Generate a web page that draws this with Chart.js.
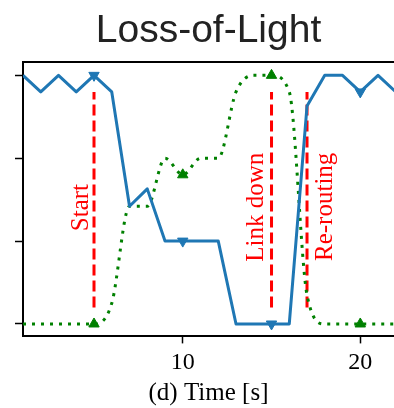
<!DOCTYPE html>
<html>
<head>
<meta charset="utf-8">
<script src="https://cdn.jsdelivr.net/npm/chart.js@4"></script>
<style>
  html, body { margin: 0; padding: 0; background: #fff; }
</style>
</head>
<body>
<canvas id="myChart" width="394" height="408"></canvas>
<script>
// time axis (s)
const times = [1, 2, 3, 4, 5, 6, 7, 8, 9, 10, 11, 12, 13, 14, 15, 16, 17, 18, 19, 20, 21, 22];
// blue series (primary path)
const primaryPath = [3, 2.8, 3, 2.8, 3, 2.8, 1.42, 1.63, 1.0, 1.0, 1.0, 1.0, 0, 0, 0, 0, 2.63, 3, 3, 2.8, 3, 2.8];
// green series (backup path)
const backupPath = [0, 0, 0, 0, 0, 0.25, 1.42, 1.42, 2.0, 1.8, 2.0, 2.0, 2.8, 3.0, 3.0, 2.8, 0.35, 0, 0, 0, 0, 0];
const xTicks = [10, 20];
const yTicks = [0, 1, 2, 3];
// events
const eventTimes = [5, 15, 17];
const eventLabels = ['Start', 'Link down', 'Re-routing'];

// label placement for events: pixel offset from line, y where text starts (data units)
const eventLabelPos = [
    { dx: -6, y: 1.12 },
    { dx: -9, y: 0.75 },
    { dx: 25, y: 0.76 }
];

const eventPlugin = {
    id: 'events',
    beforeDatasetsDraw(chart) {
        const { ctx, scales: { x, y } } = chart;
        ctx.save();
        ctx.strokeStyle = '#ff0000';
        ctx.lineWidth = 3;
        ctx.setLineDash([11, 5]);
        eventTimes.forEach((t) => {
            const px = x.getPixelForValue(t);
            ctx.beginPath();
            ctx.moveTo(px, y.getPixelForValue(0.2));
            ctx.lineTo(px, y.getPixelForValue(2.8));
            ctx.stroke();
        });
        ctx.setLineDash([]);
        ctx.fillStyle = '#ff0000';
        ctx.font = '25px "Liberation Serif"';
        ctx.textAlign = 'left';
        ctx.textBaseline = 'alphabetic';
        eventTimes.forEach((t, i) => {
            const px = x.getPixelForValue(t) + eventLabelPos[i].dx;
            const py = y.getPixelForValue(eventLabelPos[i].y);
            ctx.save();
            ctx.translate(px, py);
            ctx.rotate(-Math.PI / 2);
            ctx.fillText(eventLabels[i], 0, 0);
            ctx.restore();
        });
        ctx.restore();
    },
    afterDraw(chart) {
        // top spine
        const { ctx, chartArea } = chart;
        ctx.save();
        ctx.strokeStyle = '#000';
        ctx.lineWidth = 2;
        ctx.beginPath();
        ctx.moveTo(chartArea.left - 1, chartArea.top);
        ctx.lineTo(chartArea.right, chartArea.top);
        ctx.stroke();
        ctx.restore();
    }
};

const markerRadius = (c) => (times[c.dataIndex] % 5 === 0 ? 6 : 0);

var ctx = document.getElementById('myChart').getContext('2d');
var chart = new Chart(ctx, {
    type: 'line',
    data: {
        datasets: [{
            label: 'primary',
            data: times.map((t, i) => ({ x: t, y: primaryPath[i] })),
            borderColor: '#1f77b4',
            backgroundColor: '#1f77b4',
            borderWidth: 3,
            borderJoinStyle: 'round',
            tension: 0,
            pointStyle: 'triangle',
            rotation: 180,
            pointRadius: markerRadius,
            pointHoverRadius: markerRadius,
            pointBorderWidth: 1,
            pointBackgroundColor: '#1f77b4',
            pointBorderColor: '#1f77b4'
        }, {
            label: 'backup',
            data: times.map((t, i) => ({ x: t, y: backupPath[i] })),
            borderColor: '#008000',
            backgroundColor: '#008000',
            borderWidth: 3,
            borderDash: [3, 6],
            borderCapStyle: 'butt',
            cubicInterpolationMode: 'monotone',
            pointStyle: 'triangle',
            pointRadius: markerRadius,
            pointHoverRadius: markerRadius,
            pointBorderWidth: 1,
            pointBackgroundColor: '#008000',
            pointBorderColor: '#008000'
        }]
    },
    options: {
        responsive: false,
        animation: false,
        devicePixelRatio: 1,
        layout: { padding: { left: 15, right: 0, top: 0, bottom: 0 } },
        plugins: {
            legend: { display: false },
            tooltip: { enabled: false },
            title: {
                display: true,
                text: 'Loss-of-Light',
                fullSize: false,
                color: '#222',
                font: { family: 'Liberation Sans', size: 39, weight: 'normal' },
                padding: { top: 8, bottom: 7.3 }
            }
        },
        scales: {
            x: {
                type: 'linear',
                min: 1,
                max: 21.9,
                border: { display: true, color: '#000', width: 2 },
                grid: { display: true, drawOnChartArea: false, drawTicks: true, tickLength: 7, tickWidth: 1.5, tickColor: '#000' },
                ticks: { color: '#000', font: { family: 'Liberation Serif', size: 24 }, padding: 5, maxRotation: 0 },
                afterBuildTicks: (s) => { s.ticks = xTicks.map(v => ({ value: v })); },
                title: {
                    display: true,
                    text: '(d) Time [s]',
                    color: '#000',
                    font: { family: 'Liberation Serif', size: 25 },
                    padding: { top: -4.2, bottom: 0 }
                }
            },
            y: {
                type: 'linear',
                min: -0.15,
                max: 3.16,
                border: { display: true, color: '#000', width: 2 },
                grid: { display: true, drawOnChartArea: false, drawTicks: true, tickLength: 8, tickWidth: 1.5, tickColor: '#000' },
                ticks: { display: false },
                afterBuildTicks: (s) => { s.ticks = yTicks.map(v => ({ value: v })); }
            }
        }
    },
    plugins: [eventPlugin]
});
</script>
</body>
</html>
